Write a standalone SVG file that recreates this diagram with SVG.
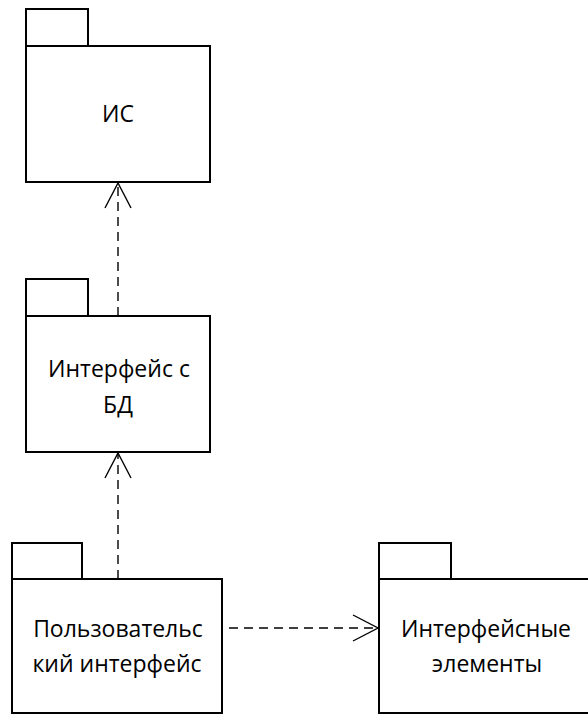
<svg xmlns="http://www.w3.org/2000/svg" width="588" height="715" viewBox="0 0 588 715">
  <style>
    .pkg { fill: #ffffff; stroke: #000000; stroke-width: 2; }
    .lbl { font-family: "Open Sans", "Liberation Sans", sans-serif; font-size: 23px; fill: #000000; text-anchor: middle; }
    .dep { fill: none; stroke: #000000; stroke-width: 1.4; stroke-dasharray: 9 6; }
  </style>
  <defs>
    <!-- open arrowhead for dependency lines -->
    <marker id="open" markerUnits="userSpaceOnUse" markerWidth="30" markerHeight="30" viewBox="-26 -15 30 30" refX="0" refY="0" orient="auto">
      <polyline points="-25,-13 0,0 -25,13" fill="none" stroke="#000000" stroke-width="1.4"/>
    </marker>
  </defs>

  <rect width="588" height="715" fill="#ffffff"/>

  <g id="pkg-is">
    <rect class="pkg" x="26" y="9" width="62" height="37"/>
    <rect class="pkg" x="26" y="46" width="184" height="136"/>
    <text class="lbl" x="118" y="122">ИС</text>
  </g>

  <g id="pkg-db">
    <rect class="pkg" x="26" y="279" width="62" height="37"/>
    <rect class="pkg" x="26" y="316" width="184" height="136"/>
    <text class="lbl" x="119" y="377">Интерфейс с</text>
    <text class="lbl" x="118" y="413">БД</text>
  </g>

  <g id="pkg-ui">
    <rect class="pkg" x="12" y="543" width="70" height="36"/>
    <rect class="pkg" x="12" y="579" width="210" height="134"/>
    <text class="lbl" x="118" y="637">Пользовательс</text>
    <text class="lbl" x="117" y="672">кий интерфейс</text>
  </g>

  <g id="pkg-elements">
    <rect class="pkg" x="379" y="543" width="72" height="36"/>
    <rect class="pkg" x="379" y="579" width="216" height="134"/>
    <text class="lbl" x="486" y="637">Интерфейсные</text>
    <text class="lbl" x="487" y="672">элементы</text>
  </g>

  <g id="connectors">
    <line class="dep" x1="118" y1="316" x2="118" y2="183" marker-end="url(#open)"/>
    <line class="dep" x1="118" y1="579" x2="118" y2="453" marker-end="url(#open)"/>
    <line class="dep" x1="229" y1="628" x2="378" y2="628" marker-end="url(#open)"/>
  </g>
</svg>
